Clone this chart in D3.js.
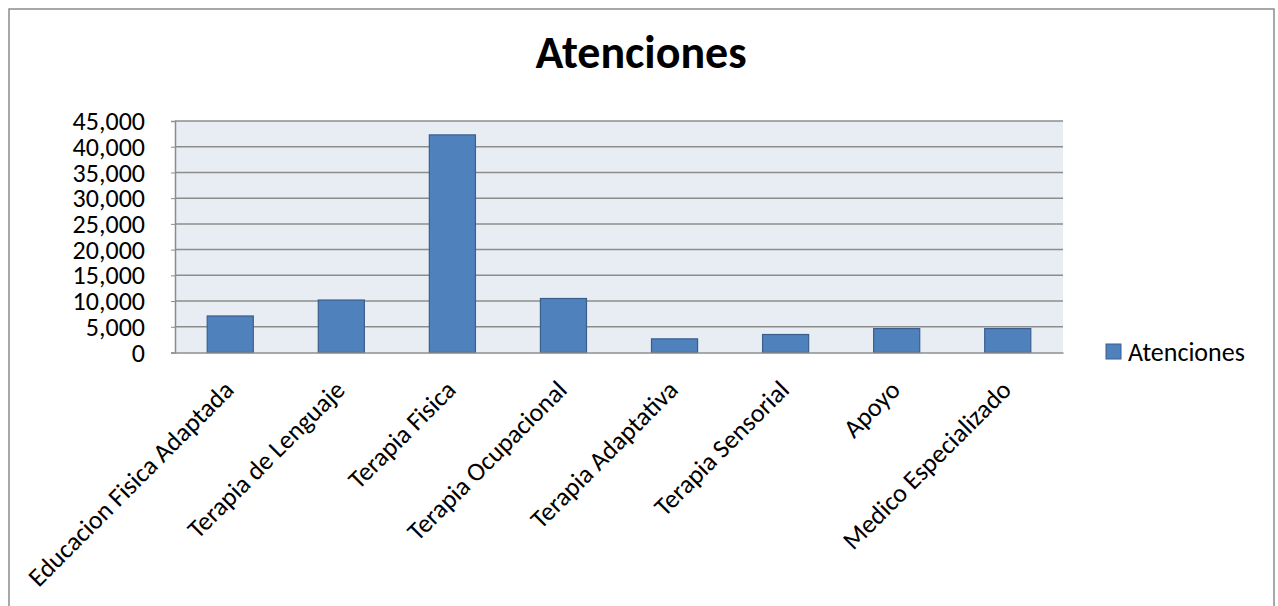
<!DOCTYPE html>
<html>
<head>
<meta charset="utf-8">
<script src="https://cdn.jsdelivr.net/npm/d3@7"></script>
<style>
  body { margin: 0; background: #fff; }
  svg { display: block; font-family: Carlito, Lato, "Open Sans", sans-serif; }
</style>
</head>
<body>
<svg id="chart"></svg>
<script>
var categories = ["Educacion Fisica Adaptada", "Terapia de Lenguaje", "Terapia Fisica",
  "Terapia Ocupacional", "Terapia Adaptativa", "Terapia Sensorial", "Apoyo", "Medico Especializado"];
var values = [7100, 10200, 42300, 10500, 2650, 3500, 4650, 4650];
var yTicks = [0, 5000, 10000, 15000, 20000, 25000, 30000, 35000, 40000, 45000];
var seriesName = "Atenciones";

var W = 1278, H = 606;
var plot = {left: 175, right: 1063, top: 121, bottom: 352.5};
var font = "Carlito, Lato, 'Open Sans', sans-serif";

var svg = d3.select("#chart").attr("width", W).attr("height", H);

// chart frame
svg.append("rect")
  .attr("x", 9).attr("y", 9)
  .attr("width", 1265).attr("height", 620)
  .attr("fill", "#fff").attr("stroke", "#8c8c8c").attr("stroke-width", 1.5);

var x = d3.scaleBand().domain(categories)
  .range([plot.left, plot.right]).paddingInner(0.585).paddingOuter(0.29);
var y = d3.scaleLinear().domain([0, 45000]).range([plot.bottom, plot.top]);

// plot background
svg.append("rect")
  .attr("x", plot.left).attr("y", plot.top)
  .attr("width", plot.right - plot.left).attr("height", plot.bottom - plot.top)
  .attr("fill", "#e8edf4");

// gridlines
svg.append("g").selectAll("line")
  .data(yTicks.slice(1))
  .enter().append("line")
  .attr("x1", plot.left).attr("x2", plot.right)
  .attr("y1", function(d){ return y(d); }).attr("y2", function(d){ return y(d); })
  .attr("stroke", "#8c8c8c").attr("stroke-width", 1.5);

// bars
svg.append("g").selectAll("rect")
  .data(values)
  .enter().append("rect")
  .attr("x", function(d, i){ return x(categories[i]); })
  .attr("y", function(d){ return y(d); })
  .attr("width", x.bandwidth())
  .attr("height", function(d){ return y(0) - y(d); })
  .attr("fill", "#4f81bd")
  .attr("stroke", "#3a5f8f").attr("stroke-width", 1.2);

// y axis
var yAxis = svg.append("g")
  .attr("transform", "translate(" + plot.left + ",0)")
  .call(d3.axisLeft(y).tickValues(yTicks).tickSize(4).tickPadding(26)
    .tickFormat(d3.format(",")));
yAxis.select(".domain").attr("stroke", "#8c8c8c").attr("stroke-width", 1.5);
yAxis.selectAll(".tick line").attr("stroke", "#8c8c8c");
yAxis.selectAll("text").attr("font-size", 26).attr("fill", "#000")
  .attr("font-family", font).attr("dy", "0.33em");

// x axis
var xAxis = svg.append("g")
  .attr("transform", "translate(0," + plot.bottom + ")")
  .call(d3.axisBottom(x).tickSize(0).tickPadding(0));
xAxis.select(".domain").attr("stroke", "#8c8c8c").attr("stroke-width", 1.5);
xAxis.selectAll("text")
  .attr("font-size", 26).attr("fill", "#000")
  .attr("font-family", font)
  .attr("text-anchor", "end")
  .attr("dy", null).attr("y", 0)
  .attr("transform", "translate(5,39) rotate(-45)");

// title
svg.append("text")
  .attr("x", 641).attr("y", 68)
  .attr("text-anchor", "middle")
  .attr("font-size", 46).attr("font-weight", "bold")
  .text("Atenciones");

// legend
var legend = svg.append("g").attr("transform", "translate(1106,344)");
legend.append("rect").attr("width", 15).attr("height", 15)
  .attr("fill", "#4f81bd").attr("stroke", "#3a5f8f");
legend.append("text").attr("x", 22).attr("y", 17)
  .attr("font-size", 26).text(seriesName);
</script>
</body>
</html>
